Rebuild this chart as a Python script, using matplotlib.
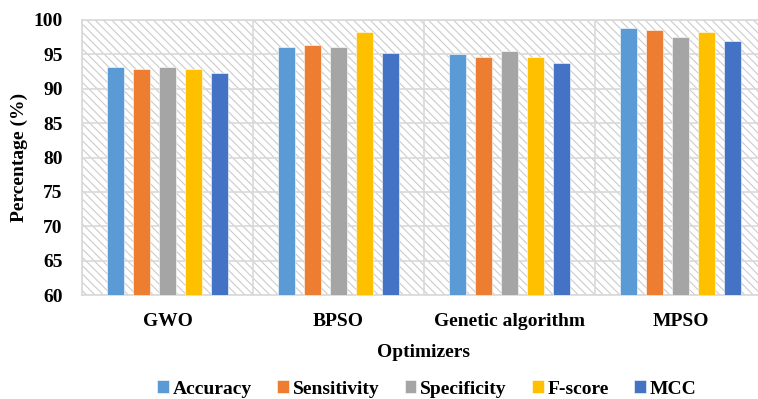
import matplotlib
matplotlib.use("Agg")
import matplotlib.pyplot as plt
from matplotlib.patches import Rectangle
import numpy as np

plt.rcParams['font.family'] = ['Liberation Serif', 'DejaVu Serif']
plt.rcParams['font.weight'] = 'bold'
plt.rcParams['hatch.linewidth'] = 0.8

optimizers = ["GWO", "BPSO", "Genetic algorithm", "MPSO"]
metrics = ["Accuracy", "Sensitivity", "Specificity", "F-score", "MCC"]
accuracy = [93.2, 96.1, 95.1, 98.8]
sensitivity = [92.9, 96.3, 94.6, 98.6]
specificity = [93.2, 96.1, 95.5, 97.5]
fscore = [92.9, 98.2, 94.6, 98.2]
mcc = [92.3, 95.2, 93.8, 96.9]
colors = ["#5B9BD5", "#ED7D31", "#A5A5A5", "#FFC000", "#4472C4"]

series = [accuracy, sensitivity, specificity, fscore, mcc]

fig = plt.figure(figsize=(7.58, 3.99), dpi=100)
ax = fig.add_axes([82 / 758, 104 / 399, 684 / 758, 275 / 399])

# hatched background
bg = Rectangle((0, 0), 1, 1, transform=ax.transAxes, facecolor='white',
               edgecolor='#cccccc', hatch='\\\\\\\\', linewidth=0, zorder=0)
ax.add_patch(bg)

x = np.arange(len(optimizers))
width = 0.1
step = 0.152
for i, (vals, name) in enumerate(zip(series, metrics)):
    ax.bar(x + (i - 2) * step, vals, width, color=colors[i], label=name,
           edgecolor='white', linewidth=0.4, zorder=3)

ax.set_xlim(-0.5, 3.5)
ax.set_ylim(60, 100)
ax.set_yticks(range(60, 101, 5))
ax.set_xticks(x)
ax.set_xticklabels(optimizers, fontsize=14, fontweight='bold')
ax.set_xticks(np.arange(-0.5, 4, 1), minor=True)
ax.tick_params(axis='y', labelsize=14, length=0, pad=14)
ax.tick_params(axis='x', which='both', length=0, pad=13)
ax.grid(axis='y', color='#d9d9d9', linewidth=1.2, zorder=1)
ax.grid(axis='x', which='minor', color='#d9d9d9', linewidth=1.2, zorder=1)
ax.grid(axis='x', which='major', visible=False)
for s in ax.spines.values():
    s.set_color('#d9d9d9')
    s.set_linewidth(1.2)

ax.set_ylabel("Percentage (%)", fontsize=14, fontweight='bold', labelpad=4)
ax.set_xlabel("Optimizers", fontsize=14, fontweight='bold', labelpad=10)

fig.legend(loc='center', bbox_to_anchor=(427 / 758, 1 - 389 / 399), ncol=5,
           frameon=False, fontsize=14, handlelength=0.6, handleheight=0.6,
           handletextpad=0.2, columnspacing=1.3)

fig.savefig("out.png", dpi=100)
